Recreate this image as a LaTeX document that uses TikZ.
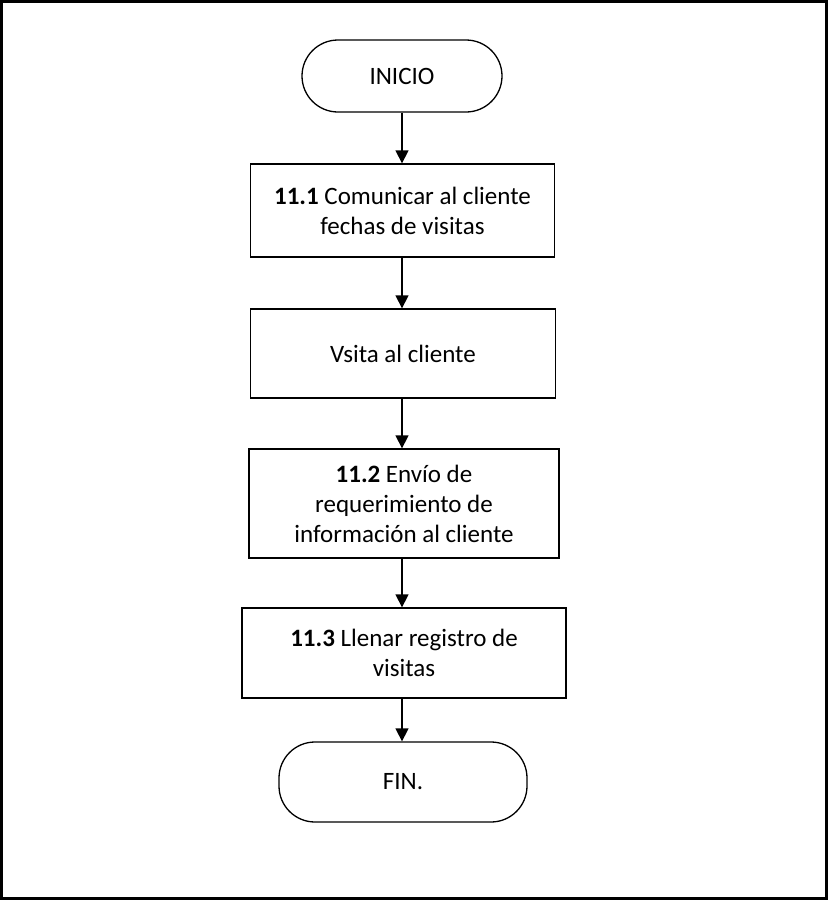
\documentclass[tikz,border=0pt]{standalone}
\usepackage{fontspec}
\setmainfont{Carlito}
\usetikzlibrary{arrows.meta}
\begin{document}
\begin{tikzpicture}[x=1pt,y=-1pt,
  every node/.style={font=\fontsize{25}{30}\selectfont, align=center, inner sep=0pt},
  stepbox/.style={draw, line width=1.3pt, rectangle},
  termbox/.style={draw, line width=1.3pt, rounded corners=36pt},
  flow/.style={line width=1.3pt, -{Triangle[length=13pt,width=13pt]}}]
\useasboundingbox (0,0) rectangle (828,900);
\draw[line width=3pt] (1.5,1.5) rectangle (826.5,898.5);
\node[termbox, minimum width=200pt, minimum height=72pt] (ini) at (402,76) {INICIO};
\node[stepbox, minimum width=304pt, minimum height=93pt] (b1) at (402.5,210.5) {\textbf{11.1} Comunicar al cliente\\fechas de visitas};
\node[stepbox, minimum width=305pt, minimum height=89pt] (b2) at (403,353.5) {Vsita al cliente};
\node[stepbox, minimum width=310pt, minimum height=109pt] (b3) at (404,503.5) {\textbf{11.2} Envío de\\requerimiento de\\información al cliente};
\node[stepbox, minimum width=324pt, minimum height=90pt] (b4) at (404,653) {\textbf{11.3} Llenar registro de\\visitas};
\node[termbox, minimum width=248pt, minimum height=80pt] (fin) at (403,782) {FIN.};
\coordinate (ax) at (402,0);
\draw[flow] (ax |- ini.south) -- (ax |- b1.north);
\draw[flow] (ax |- b1.south) -- (ax |- b2.north);
\draw[flow] (ax |- b2.south) -- (ax |- b3.north);
\draw[flow] (ax |- b3.south) -- (ax |- b4.north);
\draw[flow] (ax |- b4.south) -- (ax |- fin.north);
\end{tikzpicture}
\end{document}
